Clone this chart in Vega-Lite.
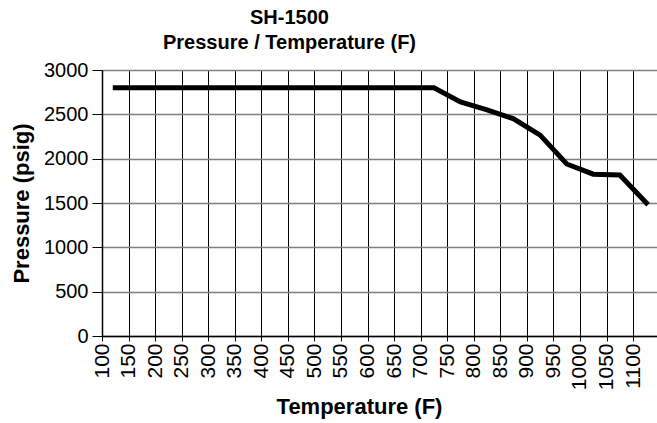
{
  "$schema": "https://vega.github.io/schema/vega-lite/v6.json",
  "width": 555,
  "height": 266,
  "autosize": {"type": "none"},
  "padding": {"left": 102, "top": 70, "right": 0, "bottom": 87},
  "background": "white",
  "config": {
    "font": "Liberation Sans",
    "view": {"stroke": null},
    "axis": {"labelColor": "#000", "titleColor": "#000", "labelFont": "Liberation Sans", "titleFont": "Liberation Sans"}
  },
  "title": {
    "text": ["SH-1500", "Pressure / Temperature (F)"],
    "fontSize": 20,
    "fontWeight": "bold",
    "color": "#000",
    "lineHeight": 25,
    "anchor": "middle",
    "frame": "group",
    "dx": -90,
    "offset": 7
  },
  "data": {
    "values": [
      {"temp": 125, "pressure": 2800},
      {"temp": 175, "pressure": 2800},
      {"temp": 225, "pressure": 2800},
      {"temp": 275, "pressure": 2800},
      {"temp": 325, "pressure": 2800},
      {"temp": 375, "pressure": 2800},
      {"temp": 425, "pressure": 2800},
      {"temp": 475, "pressure": 2800},
      {"temp": 525, "pressure": 2800},
      {"temp": 575, "pressure": 2800},
      {"temp": 625, "pressure": 2800},
      {"temp": 675, "pressure": 2800},
      {"temp": 725, "pressure": 2800},
      {"temp": 775, "pressure": 2640},
      {"temp": 825, "pressure": 2550},
      {"temp": 875, "pressure": 2450},
      {"temp": 925, "pressure": 2265},
      {"temp": 975, "pressure": 1940},
      {"temp": 1025, "pressure": 1825},
      {"temp": 1075, "pressure": 1815},
      {"temp": 1125, "pressure": 1500}
    ]
  },
  "mark": {"type": "line", "color": "#000", "strokeWidth": 5, "strokeCap": "square", "strokeJoin": "miter", "clip": false},
  "encoding": {
    "x": {
      "field": "temp",
      "type": "quantitative",
      "scale": {"domain": [100, 1145], "nice": false, "zero": false},
      "axis": {
        "values": [100,150,200,250,300,350,400,450,500,550,600,650,700,750,800,850,900,950,1000,1050,1100],
        "format": "d",
        "title": "Temperature (F)",
        "titleFontSize": 22,
        "titleFontWeight": "bold",
        "titleX": 257,
        "titleY": 77,
        "titleAlign": "center",
        "titleBaseline": "alphabetic",
        "labelAngle": -90,
        "labelAlign": "right",
        "labelBaseline": "middle",
        "labelFontSize": 21,
        "labelPadding": 2,
        "labelOverlap": false,
        "labelBound": false,
        "labelFlush": false,
        "tickSize": 5,
        "tickColor": "#000",
        "domainColor": "#000",
        "domainWidth": 1.5,
        "grid": true,
        "gridColor": "#000",
        "gridWidth": 1
      }
    },
    "y": {
      "field": "pressure",
      "type": "quantitative",
      "scale": {"domain": [0, 3000], "nice": false},
      "axis": {
        "values": [0, 500, 1000, 1500, 2000, 2500, 3000],
        "format": "d",
        "title": "Pressure (psig)",
        "titleFontSize": 22,
        "titleFontWeight": "bold",
        "titleAngle": -90,
        "titleX": -81,
        "titleY": 133,
        "titleAlign": "center",
        "titleBaseline": "middle",
        "labelFontSize": 20,
        "labelPadding": 4,
        "labelFlush": false,
        "tickSize": 10,
        "tickColor": "#000",
        "domainColor": "#000",
        "domainWidth": 1.5,
        "grid": true,
        "gridColor": "#808080",
        "gridWidth": 1.5
      }
    }
  }
}
